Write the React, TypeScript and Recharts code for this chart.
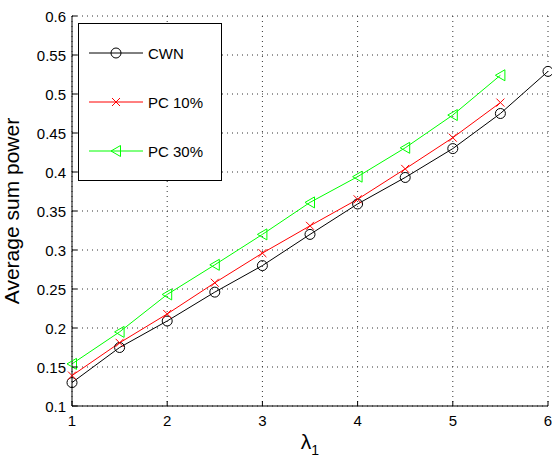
import React from 'react';
import { LineChart, Line, XAxis, YAxis, CartesianGrid, Legend } from 'recharts';

const lambdaValues = [1, 1.5, 2, 2.5, 3, 3.5, 4, 4.5, 5, 5.5, 6];
const cwnPower = [0.13, 0.175, 0.209, 0.246, 0.28, 0.32, 0.359, 0.393, 0.43, 0.475, 0.529];
const pc10Power = [0.139, 0.181, 0.218, 0.258, 0.296, 0.331, 0.365, 0.404, 0.444, 0.489];
const pc30Power = [0.154, 0.195, 0.243, 0.281, 0.32, 0.361, 0.394, 0.431, 0.473, 0.524];

const xTicks = [1, 2, 3, 4, 5, 6];
const yTicks = [0.1, 0.15, 0.2, 0.25, 0.3, 0.35, 0.4, 0.45, 0.5, 0.55, 0.6];

const FONT = '"Liberation Sans", Arial, Helvetica, sans-serif';

const data = lambdaValues.map((lambda, i) => ({
  lambda,
  cwn: cwnPower[i],
  pc10: pc10Power[i],
  pc30: pc30Power[i],
}));

type Shape = 'circle' | 'cross' | 'triangle';

const series: { key: string; name: string; color: string; shape: Shape }[] = [
  { key: 'cwn', name: 'CWN', color: '#000000', shape: 'circle' },
  { key: 'pc10', name: 'PC 10%', color: '#ff0000', shape: 'cross' },
  { key: 'pc30', name: 'PC 30%', color: '#00ff00', shape: 'triangle' },
];

function Marker({ cx, cy, shape, color }: { cx: number; cy: number; shape: Shape; color: string }) {
  if (shape === 'circle') {
    return <circle cx={cx} cy={cy} r={5} fill="none" stroke={color} strokeWidth={1} />;
  }
  if (shape === 'cross') {
    return (
      <path
        d={`M${cx - 4},${cy - 4}L${cx + 4},${cy + 4}M${cx - 4},${cy + 4}L${cx + 4},${cy - 4}`}
        stroke={color}
        strokeWidth={1}
        fill="none"
      />
    );
  }
  return (
    <path
      d={`M${cx - 5},${cy}L${cx + 4.5},${cy - 5.5}L${cx + 4.5},${cy + 5.5}Z`}
      stroke={color}
      strokeWidth={1}
      fill="none"
    />
  );
}

const makeDot = (shape: Shape, color: string) => (props: any) => {
  const { cx, cy, index } = props;
  if (cx == null || cy == null || props.value == null) return <g key={`d-${index}`} />;
  return (
    <g key={`d-${index}`}>
      <Marker cx={cx} cy={cy} shape={shape} color={color} />
    </g>
  );
};

// axis ticks point into the plot, as in MATLAB figures
const YTick = (props: any) => {
  const { x, y, payload } = props;
  return (
    <g>
      <line x1={x + 6} y1={y} x2={x + 11} y2={y} stroke="#000" />
      <text x={x} y={y} textAnchor="end" dominantBaseline="central" fontSize={15} fontFamily={FONT} fill="#000">
        {String(payload.value)}
      </text>
    </g>
  );
};

const XTick = (props: any) => {
  const { x, y, payload } = props;
  return (
    <g>
      <line x1={x} y1={y - 9} x2={x} y2={y - 14} stroke="#000" />
      <text x={x} y={y + 11} textAnchor="middle" fontSize={15} fontFamily={FONT} fill="#000">
        {String(payload.value)}
      </text>
    </g>
  );
};

const XLabel = (props: any) => {
  const vb = props.viewBox || {};
  const cx = vb.x + vb.width / 2;
  const baseline = vb.y + 43;
  return (
    <text x={cx} y={baseline} textAnchor="middle" fontSize={21} fontFamily={FONT} fill="#000">
      λ<tspan fontSize={14} dy={6}>1</tspan>
    </text>
  );
};

const LegendBox = () => (
  <svg width={145} height={159} style={{ display: 'block' }}>
    <rect x={0.5} y={0.5} width={143} height={157} fill="#fff" stroke="#000" strokeWidth={1} />
    {series.map((s, i) => {
      const cy = 30 + i * 49;
      return (
        <g key={s.key}>
          <line x1={11} y1={cy} x2={65} y2={cy} stroke={s.color} strokeWidth={1} />
          <Marker cx={38} cy={cy} shape={s.shape} color={s.color} />
          <text x={70} y={cy} dominantBaseline="central" fontSize={15} fontFamily={FONT} fill="#000">
            {s.name}
          </text>
        </g>
      );
    })}
  </svg>
);

export default function App() {
  return (
    <div style={{ position: 'absolute', left: 0, top: 0, width: 552, height: 457, background: '#fff' }}>
      <LineChart width={552} height={457} data={data} margin={{ top: 16, right: 4, left: 0, bottom: 0 }}>
        <CartesianGrid stroke="#333" strokeDasharray="1 4" />
        <XAxis
          dataKey="lambda"
          type="number"
          domain={[1, 6]}
          ticks={xTicks}
          height={51}
          tickSize={0}
          tickMargin={9}
          tick={<XTick />}
          axisLine={{ stroke: '#000' }}
          tickLine={false}
          label={{ content: XLabel }}
        />
        <YAxis
          type="number"
          domain={[0.1, 0.6]}
          ticks={yTicks}
          width={72}
          tickSize={0}
          tickMargin={6}
          tick={<YTick />}
          axisLine={{ stroke: '#000' }}
          tickLine={false}
          label={{
            value: 'Average sum power',
            angle: -90,
            position: 'insideLeft',
            offset: 12,
            style: { textAnchor: 'middle', fontSize: 21, fontFamily: FONT, fill: '#000' },
          }}
        />
        <Legend
          layout="horizontal"
          verticalAlign="middle"
          content={<LegendBox />}
          wrapperStyle={{ position: 'absolute', left: 78, top: 23, width: 145, height: 159 }}
        />
        {series.map((s) => (
          <Line
            key={s.key}
            dataKey={s.key}
            name={s.name}
            stroke={s.color}
            strokeWidth={1}
            type="linear"
            dot={makeDot(s.shape, s.color)}
            activeDot={false}
            isAnimationActive={false}
            connectNulls={false}
          />
        ))}
      </LineChart>
    </div>
  );
}
